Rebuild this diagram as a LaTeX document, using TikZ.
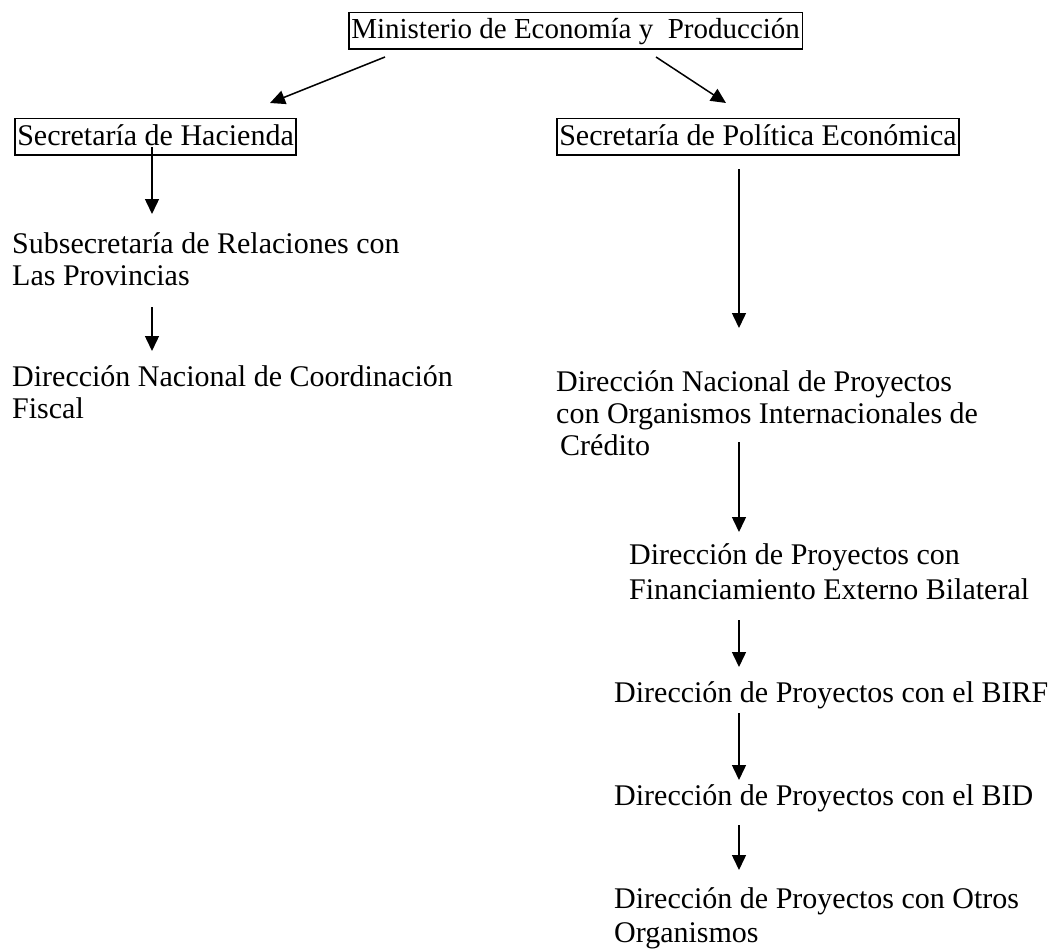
\documentclass[tikz,border=0pt]{standalone}
\usepackage{fontspec}
\setmainfont{Liberation Serif}
\usetikzlibrary{arrows.meta}
\begin{document}
\begin{tikzpicture}[x=1pt,y=-1pt,
  every node/.style={font=\fontsize{30}{32}\selectfont, inner sep=0pt, anchor=base west},
  boxed/.style={draw, line width=1.6pt, inner xsep=2.5pt, inner ysep=0pt, text height=26.5pt, text depth=10pt},
  conn/.style={line width=1.5pt, -{Triangle[length=15pt,width=14pt]}}]
\useasboundingbox (0,0) rectangle (1053,950);
% nodes
\node[boxed, font=\fontsize{29}{32}\selectfont] (min) at (348,39) {Ministerio de Economía y\ \ Producción};
\node[boxed] (hac) at (14,145) {Secretaría de Hacienda};
\node[boxed] (pol) at (556,145) {Secretaría de Política Económica};
\node (sub) at (12,253) {\begin{tabular}[t]{@{}l@{}}Subsecretaría de Relaciones con\\Las Provincias\end{tabular}};
\node (dnc) at (12,386) {\begin{tabular}[t]{@{}l@{}}Dirección Nacional de Coordinación\\Fiscal\end{tabular}};
\node (dnp) at (556,391) {\begin{tabular}[t]{@{}l@{}}Dirección Nacional de Proyectos\\con Organismos Internacionales de\\\hspace{4pt}Crédito\end{tabular}};
\node (dpf) at (629,564) {\begin{tabular}[t]{@{}l@{}}Dirección de Proyectos con\\[3pt]Financiamiento Externo Bilateral\end{tabular}};
\node (birf) at (614,702) {Dirección de Proyectos con el BIRF};
\node (bid) at (614,805) {Dirección de Proyectos con el BID};
\node (otr) at (614,908) {\begin{tabular}[t]{@{}l@{}}Dirección de Proyectos con Otros\\[2pt]Organismos\end{tabular}};
% arrow end points
\coordinate (a1s) at (385,57);
\coordinate (a1e) at (270,103);
\coordinate (a2s) at (656,57);
\coordinate (a2e) at (726,103);
\coordinate (a3s) at (152,147);
\coordinate (a3e) at (152,214);
\coordinate (a4s) at (152,307);
\coordinate (a4e) at (152,351);
\coordinate (a5s) at (739,169);
\coordinate (a5e) at (739,328);
\coordinate (a6s) at (739,442);
\coordinate (a6e) at (739,532);
\coordinate (a7s) at (739,620);
\coordinate (a7e) at (739,667);
\coordinate (a8s) at (739,713);
\coordinate (a8e) at (739,780);
\coordinate (a9s) at (739,825);
\coordinate (a9e) at (739,870);
% connectors
\draw[conn] (a1s) -- (a1e);
\draw[conn] (a2s) -- (a2e);
\draw[conn] (a3s) -- (a3e);
\draw[conn] (a4s) -- (a4e);
\draw[conn] (a5s) -- (a5e);
\draw[conn] (a6s) -- (a6e);
\draw[conn] (a7s) -- (a7e);
\draw[conn] (a8s) -- (a8e);
\draw[conn] (a9s) -- (a9e);
\end{tikzpicture}
\end{document}
